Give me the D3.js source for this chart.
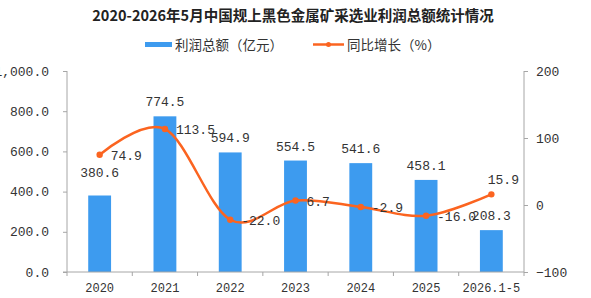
<!DOCTYPE html>
<html><head><meta charset="utf-8">
<script src="https://cdn.jsdelivr.net/npm/d3@7"></script>
<style>body{margin:0;background:#fff}svg{display:block}</style>
</head><body>
<script>
const categories = ["2020","2021","2022","2023","2024","2025","2026.1-5"];
const profit = [380.6, 774.5, 594.9, 554.5, 541.6, 458.1, 208.3];
const growth = [74.9, 113.5, -22.0, 6.7, -2.9, -16.0, 15.9];
const leftTicks = [0, 200, 400, 600, 800, 1000];
const rightTicks = [-100, 0, 100, 200];
const title = "2020-2026年5月中国规上黑色金属矿采选业利润总额统计情况";
const legendNames = ["利润总额（亿元）", "同比增长（%）"];

const W = 591, H = 298;
const m = {l: 67, r: 67, t: 71, b: 26};
const barColor = "#3d9bef", lineColor = "#fb6420", axisColor = "#a6a6a6";
const mono = "'Liberation Mono', monospace";

const svg = d3.select("body").append("svg").attr("width", W).attr("height", H);

const x = d3.scaleBand().domain(categories).range([m.l, W - m.r]).paddingInner(0.65).paddingOuter(0.325);
const yL = d3.scaleLinear().domain([0, 1000]).range([H - m.b, m.t]);
const yR = d3.scaleLinear().domain([-100, 200]).range([H - m.b, m.t]);

// title
svg.append("text").attr("x", 293).attr("y", 21).attr("text-anchor", "middle")
  .attr("font-family", "'Noto Sans CJK SC', sans-serif").attr("font-weight", "bold")
  .attr("font-size", 14.5).attr("fill", "#222").text(title);

// legend
const lg = svg.append("g").attr("font-family", "'Noto Sans CJK SC', sans-serif").attr("font-size", 13.5).attr("fill", "#333");
lg.append("rect").attr("x", 145).attr("y", 42).attr("width", 27).attr("height", 5).attr("fill", barColor);
lg.append("text").attr("x", 175).attr("y", 49.5).text(legendNames[0]);
lg.append("line").attr("x1", 313).attr("x2", 344).attr("y1", 44.5).attr("y2", 44.5).attr("stroke", lineColor).attr("stroke-width", 2.5);
lg.append("circle").attr("cx", 328.5).attr("cy", 44.5).attr("r", 2.5).attr("fill", lineColor);
lg.append("text").attr("x", 347).attr("y", 49.5).text(legendNames[1]);

// bars
svg.append("g").selectAll("rect").data(profit).join("rect")
  .attr("x", (d, i) => x(categories[i])).attr("width", x.bandwidth())
  .attr("y", d => yL(d)).attr("height", d => yL(0) - yL(d)).attr("fill", barColor);

// axes
const axL = svg.append("g").attr("transform", `translate(${m.l},0)`)
  .call(d3.axisLeft(yL).tickValues(leftTicks).tickSize(4).tickPadding(14)
    .tickFormat(d => d3.format(",.1f")(d)));
const axR = svg.append("g").attr("transform", `translate(${W - m.r},0)`)
  .call(d3.axisRight(yR).tickValues(rightTicks).tickSize(4).tickPadding(8).tickFormat(d3.format("d")));
const axB = svg.append("g").attr("transform", `translate(0,${H - m.b})`)
  .call(d3.axisBottom(x).tickSize(0).tickPadding(11));
// boundary ticks on x axis
const step = x.step();
svg.append("g").selectAll("line").data(d3.range(categories.length + 1)).join("line")
  .attr("x1", i => m.l + i * step).attr("x2", i => m.l + i * step)
  .attr("y1", H - m.b).attr("y2", H - m.b + 4).attr("stroke", axisColor);
[axL, axR, axB].forEach(a => {
  a.selectAll(".domain").attr("stroke", axisColor);
  a.selectAll(".tick line").attr("stroke", axisColor);
  a.selectAll("text").attr("fill", "#333").attr("font-family", mono).attr("font-size", 13);
});
axB.selectAll("text").attr("font-size", 12);
axB.select(".domain").attr("d", `M${m.l - 4},0H${W - m.r}`);
axL.select(".domain").attr("d", `M0,${m.t}V${H - m.b}`);
axR.select(".domain").attr("d", `M0,${m.t}V${H - m.b}`);

// line
const cx = i => x(categories[i]) + x.bandwidth() / 2;
const line = d3.line().x((d, i) => cx(i)).y(d => yR(d)).curve(d3.curveCardinal.tension(0));
svg.append("path").datum(growth).attr("d", line).attr("fill", "none")
  .attr("stroke", lineColor).attr("stroke-width", 2.5);
svg.append("g").selectAll("circle").data(growth).join("circle")
  .attr("cx", (d, i) => cx(i)).attr("cy", d => yR(d)).attr("r", 3.2).attr("fill", lineColor);

// bar labels
svg.append("g").selectAll("text").data(profit).join("text")
  .attr("x", (d, i) => cx(i)).attr("y", (d, i) => yL(d) - (i === 0 ? 18 : 10))
  .attr("text-anchor", "middle").attr("font-family", mono).attr("font-size", 13).attr("fill", "#333")
  .text(d => d.toFixed(1));

// growth labels
const last = growth.length - 1;
svg.append("g").selectAll("text").data(growth).join("text")
  .attr("x", (d, i) => i === last ? cx(i) + 12 : cx(i) + 11)
  .attr("y", (d, i) => i === last ? yR(d) - 10 : yR(d) + 5)
  .attr("text-anchor", (d, i) => i === last ? "middle" : "start")
  .attr("font-family", mono).attr("font-size", 13).attr("fill", "#333")
  .text(d => d.toFixed(1));
</script>
</body></html>
